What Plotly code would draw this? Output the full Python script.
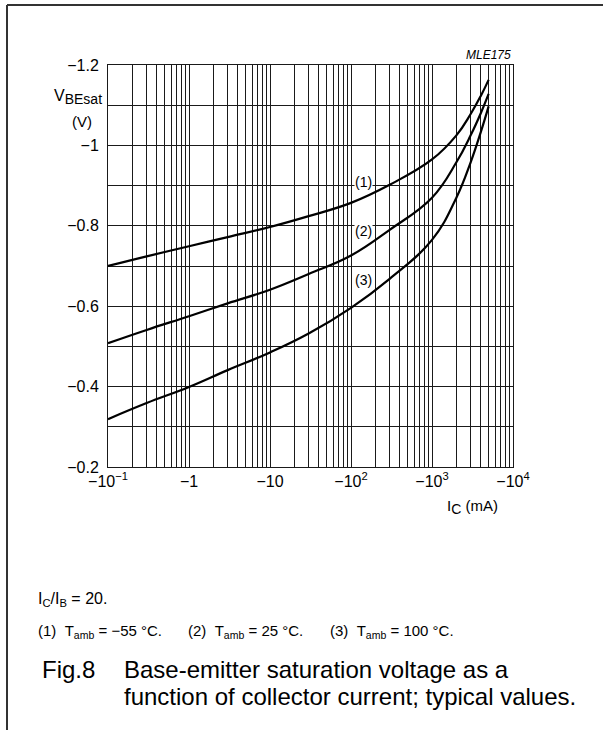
import plotly.graph_objects as go

# Collector current magnitude (mA); axis shows negative values (−I_C)
ic_ma = [0.1, 0.3, 1, 3, 10, 30, 100, 300, 1000, 2000, 3000, 4000, 5000]
# V_BEsat (V) for the three ambient temperatures
v_m55 = [-0.700, -0.724, -0.749, -0.772, -0.797, -0.824, -0.857, -0.902, -0.965, -1.025, -1.078, -1.123, -1.163]
v_25 = [-0.508, -0.541, -0.575, -0.607, -0.641, -0.680, -0.726, -0.790, -0.870, -0.958, -1.025, -1.080, -1.128]
v_100 = [-0.319, -0.359, -0.399, -0.441, -0.485, -0.532, -0.596, -0.668, -0.765, -0.870, -0.958, -1.033, -1.097]
series = [("(1)", v_m55), ("(2)", v_25), ("(3)", v_100)]

x_tickvals = [0.1, 1, 10, 100, 1000, 10000]
x_ticktext = ["\u221210<sup>\u22121</sup>", "\u22121", "\u221210", "\u221210<sup>2</sup>",
              "\u221210<sup>3</sup>", "\u221210<sup>4</sup>"]
y_tickvals = [-0.2, -0.3, -0.4, -0.5, -0.6, -0.7, -0.8, -0.9, -1.0, -1.1, -1.2]
y_ticktext = ["\u22120.2", "", "\u22120.4", "", "\u22120.6", "", "\u22120.8", "", "\u22121", "", "\u22121.2"]

# curve label positions (data coords: log10 of |I_C|, V)
label_logx = 2.152
label_y = [-0.908, -0.786, -0.665]

FONT = "Arial, Liberation Sans, Helvetica, sans-serif"
GRID = "#1a1a1a"

fig = go.Figure()
for name, v in series:
    fig.add_trace(go.Scatter(x=ic_ma, y=v, mode="lines", name=name,
                             line=dict(color="black", width=2.2, shape="spline", smoothing=1.2),
                             showlegend=False, hoverinfo="skip"))

for (name, _), ly in zip(series, label_y):
    fig.add_annotation(x=label_logx, y=ly, xref="x", yref="y", text=name, showarrow=False,
                       font=dict(size=14, color="black", family=FONT), bgcolor="white",
                       borderpad=0)

fig.update_layout(
    width=603, height=730,
    margin=dict(l=108, r=90, t=65, b=263),
    paper_bgcolor="white", plot_bgcolor="white",
    font=dict(family=FONT, color="black"),
    showlegend=False,
)
fig.update_xaxes(type="log", range=[-1, 4], tickvals=x_tickvals, ticktext=x_ticktext,
                 showgrid=True, gridcolor=GRID, gridwidth=1, zeroline=False,
                 showline=True, linecolor=GRID, linewidth=1, mirror=True, ticks="",
                 tickfont=dict(size=16, family=FONT), ticklabelstandoff=0,
                 minor=dict(dtick="D1", showgrid=True, gridcolor=GRID, gridwidth=1, ticks=""))
fig.update_yaxes(range=[-0.2, -1.2], tickvals=y_tickvals, ticktext=y_ticktext,
                 showgrid=True, gridcolor=GRID, gridwidth=1, zeroline=False,
                 showline=True, linecolor=GRID, linewidth=1, mirror=True, ticks="",
                 tickfont=dict(size=16, family=FONT), ticklabelstandoff=5)

def px(xp):
    return (xp - 108) / 405.0

def py(yp):
    return (467.0 - yp) / 402.0

def note(x, y, text, size, anchor="left", **kw):
    fig.add_annotation(x=px(x), y=py(y), xref="paper", yref="paper", xanchor=anchor, yanchor="middle",
                       text=text, showarrow=False, font=dict(size=size, family=FONT, color="black"), **kw)

# axis titles
note(104, 97, "V<sub><span style='font-size:14px'>BEsat</span></sub>", 16, anchor="right")
note(82, 121, "(V)", 15, anchor="center")
note(500, 507, "I<sub><span style='font-size:14px'>C</span></sub> (mA)", 15, anchor="right")
note(513, 55, "<i>MLE175</i>", 12, anchor="right")

# notes and caption
note(36, 599, "I<sub>C</sub>/I<sub>B</sub> = 20.", 16)
note(36, 631, "(1)&#160;&#160;T<sub>amb</sub> = \u221255 \u00b0C.", 15)
note(186, 631, "(2)&#160;&#160;T<sub>amb</sub> = 25 \u00b0C.", 15)
note(328, 631, "(3)&#160;&#160;T<sub>amb</sub> = 100 \u00b0C.", 15)
note(40, 669, "Fig.8", 24)
note(122, 669, "Base-emitter saturation voltage as a", 24)
note(122, 696, "function of collector current; typical values.", 24)

# outer frame (top and left edges)
fig.add_shape(type="line", xref="paper", yref="paper", x0=px(7), x1=px(603), y0=py(5), y1=py(5),
              line=dict(color="#333", width=2))
fig.add_shape(type="line", xref="paper", yref="paper", x0=px(7), x1=px(7), y0=py(5), y1=py(730),
              line=dict(color="#333", width=2))

fig.write_html("out.html", config={"displayModeBar": False},
               post_script="document.body.style.margin='0';")
